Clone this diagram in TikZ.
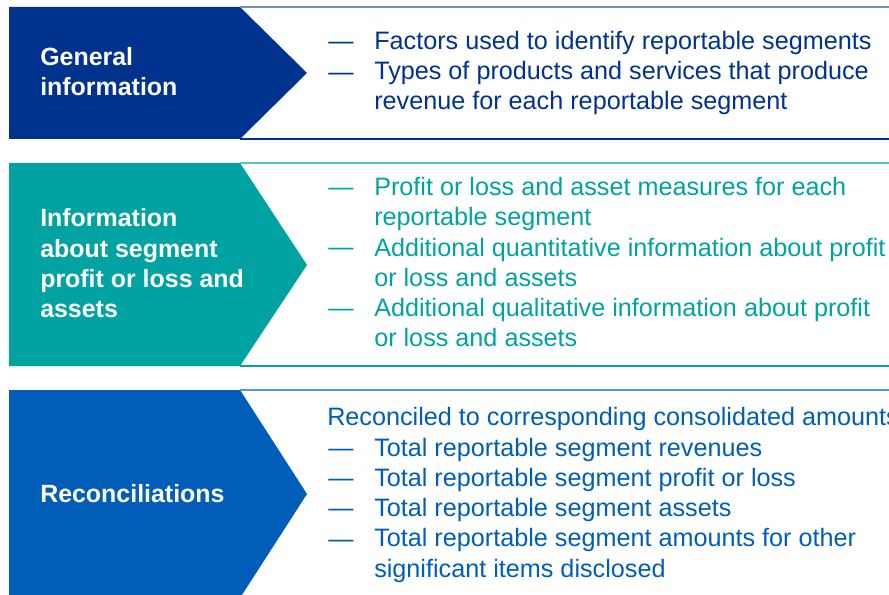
\documentclass[tikz,border=0pt]{standalone}
\usepackage{fontspec}
\setmainfont{Liberation Sans}
\usetikzlibrary{positioning}

\definecolor{kdark}{HTML}{00338D}
\definecolor{kteal}{HTML}{00A3A1}
\definecolor{kmid}{HTML}{005EB8}

\tikzset{
  headlabel/.style={anchor=base west, inner sep=0pt, align=left, text=white,
    font=\fontsize{18.7}{22.8}\selectfont\bfseries},
  item/.style={anchor=base west, inner sep=0pt, align=left,
    font=\fontsize{18.9}{22.6}\selectfont},
  dashmark/.style={anchor=base west, inner sep=0pt,
    font=\fontsize{18.9}{22.6}\selectfont},
  rule/.style={line width=1.1pt}
}

\begin{document}
\begin{tikzpicture}[x=0.75pt, y=-0.75pt]
\useasboundingbox (0,0) rectangle (889,595);
%%%
% (multi-line nodes are placed at the baseline of their last line)

% General information
\fill[kdark] (9,7) -- (240,7) -- (307,73) -- (240,139) -- (9,139) -- cycle;
\draw[rule, kdark!55] (240,7) -- (889,7);
\draw[rule, kdark] (240,139) -- (889,139);
\node[headlabel] (gen) at (40,96) {General\\information};

\node[dashmark, text=kdark] (gd1) at (328,50) {—};
\node[item, text=kdark] (gi1) at (374,50) {Factors used to identify reportable segments};
\node[dashmark, text=kdark] (gd2) at (328,81) {—};
\node[item, text=kdark] (gi2) at (374,110) {Types of products and services that produce\\revenue for each reportable segment};

% Segment profit or loss and assets
\fill[kteal] (9,163) -- (240,163) -- (307,265) -- (240,366) -- (9,366) -- cycle;
\draw[rule, kteal!65] (240,163) -- (889,163);
\draw[rule, kteal] (240,366) -- (889,366);
\node[headlabel] (seg) at (40,318) {Information\\about segment\\profit or loss and\\assets};

\node[dashmark, text=kteal] (sd1) at (328,196) {—};
\node[item, text=kteal] (si1) at (374,226) {Profit or loss and asset measures for each\\reportable segment};
\node[dashmark, text=kteal] (sd2) at (328,256) {—};
\node[item, text=kteal] (si2) at (374,287) {Additional quantitative information about profit\\or loss and assets};
\node[dashmark, text=kteal] (sd3) at (328,317) {—};
\node[item, text=kteal] (si3) at (374,347) {Additional qualitative information about profit\\or loss and assets};

% Reconciliations
\fill[kmid] (9,390) -- (240,390) -- (307,494) -- (240,598) -- (9,598) -- cycle;
\draw[rule, kmid!65] (240,390) -- (889,390);
\node[headlabel] (rec) at (40,502) {Reconciliations};

\node[item, text=kmid] (rhead) at (327,425) {Reconciled to corresponding consolidated amounts:};
\node[dashmark, text=kmid] (rd1) at (328,456) {—};
\node[item, text=kmid] (ri1) at (374,456) {Total reportable segment revenues};
\node[dashmark, text=kmid] (rd2) at (328,486) {—};
\node[item, text=kmid] (ri2) at (374,486) {Total reportable segment profit or loss};
\node[dashmark, text=kmid] (rd3) at (328,516) {—};
\node[item, text=kmid] (ri3) at (374,516) {Total reportable segment assets};
\node[dashmark, text=kmid] (rd4) at (328,547) {—};
\node[item, text=kmid] (ri4) at (374,577) {Total reportable segment amounts for other\\significant items disclosed};

%%%
\end{tikzpicture}
\end{document}
